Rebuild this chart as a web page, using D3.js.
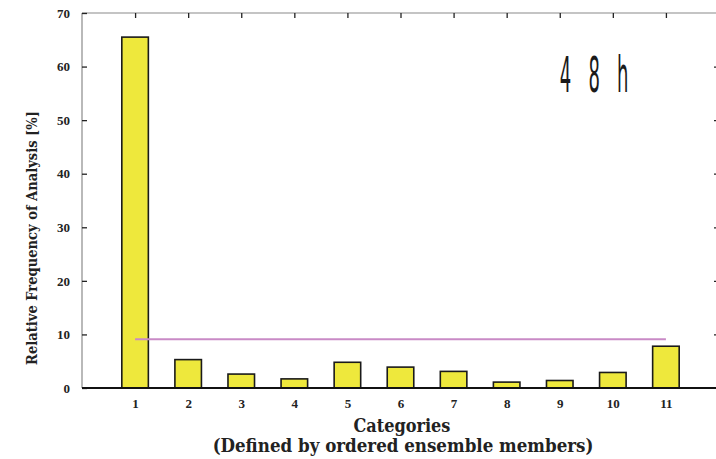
<!DOCTYPE html>
<html>
<head>
<meta charset="utf-8">
<script src="https://cdn.jsdelivr.net/npm/d3@7"></script>
<style>
  html, body { margin: 0; padding: 0; background: #fff; }
  svg { display: block; }
</style>
</head>
<body>
<svg id="chart" width="716" height="459"></svg>
<script>
// Rank histogram: relative frequency of the analysis falling in each category
const categories = [1, 2, 3, 4, 5, 6, 7, 8, 9, 10, 11];
const frequency = [65.5, 5.3, 2.6, 1.7, 4.8, 3.9, 3.1, 1.1, 1.4, 2.9, 7.8];
const uniformLevel = 100 / 11;           // flat reference line (ideal ranking)
const yTicks = [0, 10, 20, 30, 40, 50, 60, 70];
const leadTime = "4 8 h";

const svg = d3.select("#chart");
const plotL = 82, plotR = 719, plotT = 13, plotB = 388;

const x = d3.scaleLinear().domain([0, 12]).range([plotL, plotR]);
const y = d3.scaleLinear().domain([0, 70]).range([plotB, plotT]);
const barW = x(0.5) - x(0);

const serif = "'DejaVu Serif Condensed', 'DejaVu Serif', 'Liberation Serif', serif";
const tickFont = "'Liberation Serif', 'DejaVu Serif', serif";

// scale a text element's font so that it spans the given width
function fitWidth(sel, width) {
  const node = sel.node();
  const fs = parseFloat(sel.attr("font-size"));
  const w = node.getComputedTextLength();
  if (w > 0) sel.attr("font-size", (fs * width / w).toFixed(2));
  return sel;
}

// frame: top, left and right lines are light grey, baseline is heavy black
svg.append("line").attr("x1", plotL).attr("x2", plotR).attr("y1", plotT).attr("y2", plotT)
  .attr("stroke", "#8a8a8a").attr("stroke-width", 1.2);
svg.append("line").attr("x1", plotL).attr("x2", plotL).attr("y1", plotT).attr("y2", plotB)
  .attr("stroke", "#8a8a8a").attr("stroke-width", 1.2);
svg.append("line").attr("x1", plotR).attr("x2", plotR).attr("y1", plotT).attr("y2", plotB)
  .attr("stroke", "#8a8a8a").attr("stroke-width", 1.2);

// inward ticks on the top edge at each category
svg.append("g").attr("transform", `translate(0,${plotT})`)
  .call(d3.axisBottom(x).tickValues(categories).tickSize(5).tickFormat(""))
  .call(g => g.select(".domain").remove())
  .call(g => g.selectAll(".tick line").attr("stroke", "#222").attr("stroke-width", 1.3));

// y axis on the left with inward ticks
svg.append("g").attr("transform", `translate(${plotL},0)`)
  .call(d3.axisRight(y).tickValues(yTicks).tickSize(5).tickFormat(""))
  .call(g => g.select(".domain").remove())
  .call(g => g.selectAll(".tick line").attr("stroke", "#222").attr("stroke-width", 1.3));
svg.append("g").attr("transform", `translate(${plotL},0)`)
  .call(d3.axisLeft(y).tickValues(yTicks).tickSize(0).tickPadding(12))
  .call(g => g.select(".domain").remove())
  .call(g => g.selectAll("text").attr("font-family", tickFont).attr("font-weight", "bold")
    .attr("font-size", 13).attr("fill", "#222"));

// inward ticks on the right edge
svg.append("g").attr("transform", `translate(${plotR},0)`)
  .call(d3.axisLeft(y).tickValues(yTicks.slice(1, -1)).tickSize(5).tickFormat(""))
  .call(g => g.select(".domain").remove())
  .call(g => g.selectAll(".tick line").attr("stroke", "#222").attr("stroke-width", 1.3));

// bars
svg.append("g").selectAll("rect").data(categories).join("rect")
  .attr("x", (d) => x(d) - barW / 2)
  .attr("width", barW)
  .attr("y", (d, i) => y(frequency[i]))
  .attr("height", (d, i) => y(0) - y(frequency[i]))
  .attr("fill", "#eee83c")
  .attr("stroke", "#1a1a1a")
  .attr("stroke-width", 1.6);

// uniform distribution reference line
svg.append("line")
  .attr("x1", x(categories[0])).attr("x2", x(categories[categories.length - 1]))
  .attr("y1", y(uniformLevel)).attr("y2", y(uniformLevel))
  .attr("stroke", "#c98ac6").attr("stroke-width", 2);

// baseline
svg.append("line").attr("x1", plotL).attr("x2", plotR).attr("y1", plotB).attr("y2", plotB)
  .attr("stroke", "#111").attr("stroke-width", 2);

// category labels
svg.append("g").attr("transform", `translate(0,${plotB})`)
  .call(d3.axisBottom(x).tickValues(categories).tickSize(0).tickPadding(11))
  .call(g => g.select(".domain").remove())
  .call(g => g.selectAll("text").attr("font-family", tickFont).attr("font-weight", "bold")
    .attr("font-size", 13).attr("fill", "#222"));

// axis titles
svg.append("text")
  .attr("transform", `translate(37,238) rotate(-90)`)
  .attr("text-anchor", "middle")
  .attr("font-family", serif).attr("font-weight", "bold").attr("font-size", 15)
  .attr("font-stretch", "condensed")
  .attr("fill", "#222")
  .text("Relative Frequency of Analysis [%]")
  .call(s => fitWidth(s, 254));

svg.append("text")
  .attr("x", 402).attr("y", 432)
  .attr("text-anchor", "middle")
  .attr("font-family", serif).attr("font-weight", "bold").attr("font-size", 15)
  .attr("font-stretch", "condensed")
  .attr("fill", "#222")
  .text("Categories")
  .call(s => fitWidth(s, 97));

svg.append("text")
  .attr("x", 403).attr("y", 452)
  .attr("text-anchor", "middle")
  .attr("font-family", serif).attr("font-weight", "bold").attr("font-size", 15)
  .attr("font-stretch", "condensed")
  .attr("fill", "#222")
  .text("(Defined by ordered ensemble members)")
  .call(s => fitWidth(s, 381));

// lead time label in a tall narrow face
svg.append("text")
  .attr("transform", "translate(597,92) scale(0.36,1)")
  .attr("text-anchor", "middle")
  .attr("font-family", "'DejaVu Sans', sans-serif")
  .attr("font-size", 50)
  .attr("letter-spacing", 16)
  .attr("fill", "#1a1a1a")
  .text(leadTime);
</script>
</body>
</html>
